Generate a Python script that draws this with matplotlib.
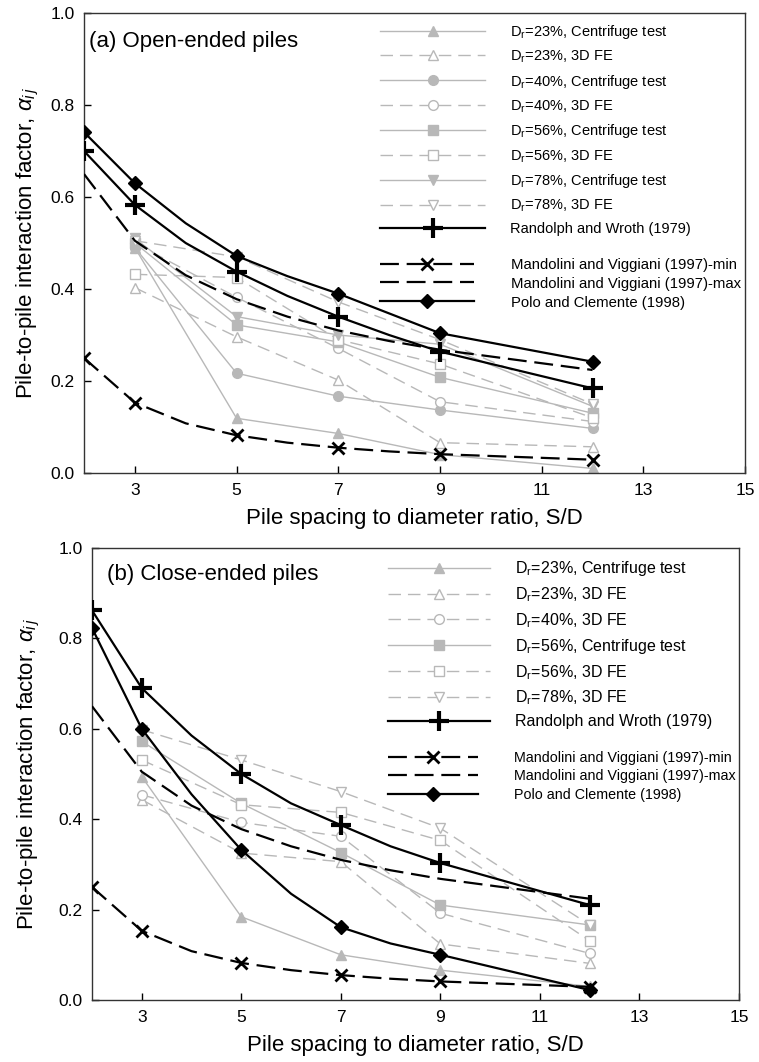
import matplotlib
matplotlib.use("Agg")
import matplotlib.pyplot as plt

plt.rcParams["font.family"] = ["Liberation Sans", "DejaVu Sans"]
plt.rcParams["mathtext.fontset"] = "custom"
plt.rcParams["mathtext.rm"] = "Liberation Sans"
plt.rcParams["mathtext.it"] = "Liberation Sans:italic"

# spacing ratios where the test / FE points sit
sd = [3, 5, 7, 9, 12]

# (a) open-ended piles
a_23_cent = [0.49, 0.119, 0.086, 0.04, 0.01]
a_23_fe = [0.403, 0.296, 0.202, 0.066, 0.057]
a_40_cent = [0.49, 0.217, 0.167, 0.137, 0.097]
a_40_fe = [0.50, 0.382, 0.271, 0.155, 0.112]
a_56_cent = [0.50, 0.322, 0.285, 0.208, 0.13]
a_56_fe = [0.432, 0.425, 0.29, 0.237, 0.12]
a_78_cent = [0.51, 0.34, 0.30, 0.28, 0.145]
a_78_fe = [0.505, 0.47, 0.372, 0.29, 0.15]

# (b) close-ended piles
b_23_cent = [0.494, 0.184, 0.10, 0.066, 0.03]
b_23_fe = [0.443, 0.325, 0.306, 0.124, 0.081]
b_40_fe = [0.454, 0.393, 0.362, 0.192, 0.103]
b_56_cent = [0.572, 0.435, 0.326, 0.21, 0.166]
b_56_fe = [0.531, 0.432, 0.415, 0.353, 0.131]
b_78_fe = [0.598, 0.531, 0.461, 0.38, 0.166]

# published curves, read at these S/D values (markers only on some of them)
curve_sd = [2, 3, 4, 5, 6, 7, 8, 9, 12]
marked = [0, 1, 3, 5, 7, 8]
mv_min = [0.25, 0.153, 0.108, 0.082, 0.066, 0.055, 0.047, 0.041, 0.029]
mv_max = [0.65, 0.505, 0.43, 0.378, 0.34, 0.31, 0.287, 0.268, 0.224]
a_rw = [0.70, 0.583, 0.50, 0.438, 0.385, 0.34, 0.30, 0.264, 0.184]
a_pc = [0.741, 0.63, 0.543, 0.472, 0.428, 0.39, 0.347, 0.304, 0.242]
b_rw = [0.862, 0.69, 0.585, 0.50, 0.435, 0.387, 0.34, 0.303, 0.21]
b_pc = [0.823, 0.60, 0.455, 0.332, 0.235, 0.161, 0.125, 0.10, 0.022]

xticks = [3, 5, 7, 9, 11, 13, 15]
yticks = [0.0, 0.2, 0.4, 0.6, 0.8, 1.0]

GRAY = "#b8b8b8"
GDASH = (9, 5)
BDASH = (8.5, 3.5)


def gray_series(ax, vals, marker, filled, dashed, label):
    """Plot one light grey test / FE series."""
    ls = (0, GDASH) if dashed else "-"
    ax.plot(sd, vals, color=GRAY, lw=1.0, linestyle=ls, marker=marker,
            ms=7, mfc=GRAY if filled else "white", mec=GRAY, mew=1.0,
            label=label, zorder=2)


def theory_curves(ax, rw, pc):
    """Plot the black reference curves and return their handles."""
    h_rw, = ax.plot(curve_sd, rw, color="black", lw=1.6, marker="+",
                    markevery=marked, ms=14, mew=3,
                    label="Randolph and Wroth (1979)", zorder=4)
    h_min, = ax.plot(curve_sd, mv_min, color="black", lw=1.6,
                     linestyle=(0, BDASH), marker="x", markevery=marked,
                     ms=8, mew=2, label="Mandolini and Viggiani (1997)-min",
                     zorder=4)
    h_max, = ax.plot(curve_sd, mv_max, color="black", lw=1.6,
                     linestyle=(0, BDASH),
                     label="Mandolini and Viggiani (1997)-max", zorder=4)
    h_pc, = ax.plot(curve_sd, pc, color="black", lw=1.6, marker="D",
                    markevery=marked, ms=7, label="Polo and Clemente (1998)",
                    zorder=5)
    return h_rw, [h_min, h_max, h_pc]


def style_axes(ax, ylab_x, xlab_y):
    """Axis limits, ticks and labels shared by both panels."""
    ax.set_xlim(2, 15)
    ax.set_ylim(0, 1.0)
    ax.set_xticks(xticks)
    ax.set_yticks(yticks)
    ax.set_yticklabels([f"{t:.1f}" for t in yticks])
    ax.tick_params(direction="in", length=5, width=1, labelsize=12.5,
                   top=False, right=False)
    ax.tick_params(axis="y", pad=6.5)
    ax.tick_params(axis="x", pad=7)
    for s in ax.spines.values():
        s.set_linewidth(1.0)
        s.set_color("#333333")
    ax.set_xlabel("Pile spacing to diameter ratio, S/D", fontsize=16)
    ax.set_ylabel(r"Pile-to-pile interaction factor, $\alpha_{i\,j}$",
                  fontsize=16)
    ax.yaxis.set_label_coords(ylab_x, 0.5)
    ax.xaxis.set_label_coords(0.5, xlab_y)


def add_legends(ax, handles, extra, x0, y0, y1, fs, fs2, hl, hp, ls1, ls2):
    """Two frameless legends: data + Randolph, then the three others."""
    leg = ax.legend(handles=handles, loc="upper left",
                    bbox_to_anchor=(x0, y0), frameon=False, fontsize=fs,
                    handlelength=hl, handletextpad=hp,
                    labelspacing=ls1, borderpad=0, borderaxespad=0)
    ax.add_artist(leg)
    ax.legend(handles=extra, loc="upper left", bbox_to_anchor=(x0, y1),
              frameon=False, fontsize=fs2, handlelength=6.3,
              handletextpad=2.5, labelspacing=ls2, borderpad=0,
              borderaxespad=0)


def main():
    fig = plt.figure(figsize=(7.59, 10.62), dpi=100)
    ax1 = fig.add_axes([0.1107, 0.5546, 0.871, 0.4331])
    ax2 = fig.add_axes([0.1212, 0.0584, 0.8524, 0.4256])

    # panel (a)
    gray_series(ax1, a_23_cent, "^", True, False, "D$_\\mathrm{r}$=23%, Centrifuge test")
    gray_series(ax1, a_23_fe, "^", False, True, "D$_\\mathrm{r}$=23%, 3D FE")
    gray_series(ax1, a_40_cent, "o", True, False, "D$_\\mathrm{r}$=40%, Centrifuge test")
    gray_series(ax1, a_40_fe, "o", False, True, "D$_\\mathrm{r}$=40%, 3D FE")
    gray_series(ax1, a_56_cent, "s", True, False, "D$_\\mathrm{r}$=56%, Centrifuge test")
    gray_series(ax1, a_56_fe, "s", False, True, "D$_\\mathrm{r}$=56%, 3D FE")
    gray_series(ax1, a_78_cent, "v", True, False, "D$_\\mathrm{r}$=78%, Centrifuge test")
    gray_series(ax1, a_78_fe, "v", False, True, "D$_\\mathrm{r}$=78%, 3D FE")
    h_rw, extra = theory_curves(ax1, a_rw, a_pc)
    style_axes(ax1, -0.0655, -0.076)
    ax1.text(0.008, 0.939, "(a) Open-ended piles", transform=ax1.transAxes,
             fontsize=16, va="center")
    handles = [h for h in ax1.get_lines()[:8]] + [h_rw]
    add_legends(ax1, handles, extra, 0.448, 0.979, 0.468, 10.5, 10.7,
                7.2, 1.7, 0.53, 0.33)

    # panel (b)
    gray_series(ax2, b_23_cent, "^", True, False, "D$_\\mathrm{r}$=23%, Centrifuge test")
    gray_series(ax2, b_23_fe, "^", False, True, "D$_\\mathrm{r}$=23%, 3D FE")
    gray_series(ax2, b_40_fe, "o", False, True, "D$_\\mathrm{r}$=40%, 3D FE")
    gray_series(ax2, b_56_cent, "s", True, False, "D$_\\mathrm{r}$=56%, Centrifuge test")
    gray_series(ax2, b_56_fe, "s", False, True, "D$_\\mathrm{r}$=56%, 3D FE")
    gray_series(ax2, b_78_fe, "v", False, True, "D$_\\mathrm{r}$=78%, 3D FE")
    h_rw, extra = theory_curves(ax2, b_rw, b_pc)
    style_axes(ax2, -0.078, -0.0775)
    ax2.text(0.023, 0.942, "(b) Close-ended piles", transform=ax2.transAxes,
             fontsize=16, va="center")
    handles = [h for h in ax2.get_lines()[:6]] + [h_rw]
    add_legends(ax2, handles, extra, 0.4575, 0.975, 0.551, 11.5, 10.3,
                6.4, 1.56, 0.44, 0.3)

    fig.savefig("out.png", dpi=100)


if __name__ == "__main__":
    main()
